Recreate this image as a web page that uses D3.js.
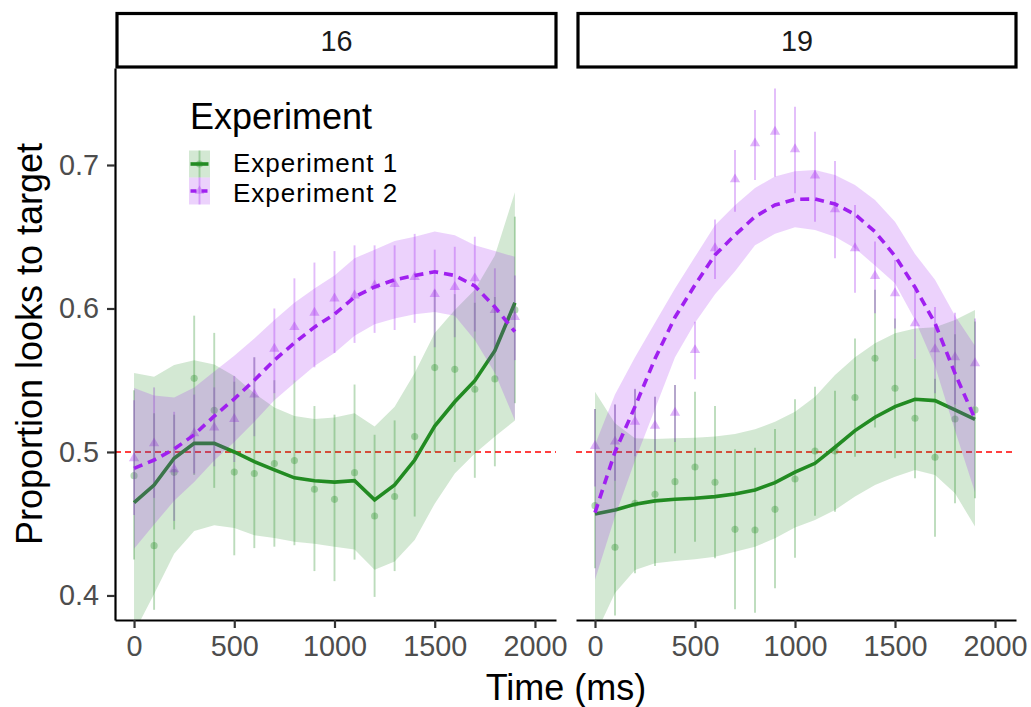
<!DOCTYPE html>
<html>
<head>
<meta charset="utf-8">
<script src="https://cdn.jsdelivr.net/npm/d3@7"></script>
<style>
  html, body { margin: 0; padding: 0; background: #fff; }
  svg { display: block; font-family: "Liberation Sans", Arial, Helvetica, sans-serif; }
</style>
</head>
<body>
<svg id="chart" width="1031" height="707"></svg>
<script>
// ---------------- DATA ----------------
const times = [0, 100, 200, 300, 400, 500, 600, 700, 800, 900, 1000, 1100, 1200, 1300, 1400, 1500, 1600, 1700, 1800, 1900];
const panels = ["16", "19"];
const seriesNames = ["Experiment 1", "Experiment 2"];
const xTicks = [0, 500, 1000, 1500, 2000];
const yTicks = [0.4, 0.5, 0.6, 0.7];

// Panel 16 — Experiment 1 observed means and ranges
const p16e1Mean  = [0.4835, 0.4347, 0.4858, 0.5513, 0.529, 0.486, 0.485, 0.492, 0.494, 0.474, 0.467, 0.4856, 0.4554, 0.469, 0.5107, 0.5588, 0.5576, 0.5437, 0.5509, 0.599];
const p16e1Low   = [0.425, 0.390, 0.446, 0.484, 0.475, 0.428, 0.433, 0.434, 0.435, 0.417, 0.410, 0.425, 0.399, 0.417, 0.455, 0.500, 0.493, 0.482, 0.490, 0.534];
const p16e1High  = [0.543, 0.527, 0.526, 0.595, 0.583, 0.549, 0.566, 0.550, 0.550, 0.532, 0.526, 0.547, 0.512, 0.522, 0.567, 0.613, 0.610, 0.604, 0.608, 0.664];
// Panel 16 — Experiment 1 smooth fit and band
const p16e1Fit   = [0.4647, 0.477, 0.4956, 0.506, 0.506, 0.500, 0.4933, 0.4875, 0.482, 0.480, 0.479, 0.480, 0.4666, 0.477, 0.4944, 0.518, 0.535, 0.5497, 0.5706, 0.604];
const p16e1FitLo = [0.374, 0.401, 0.429, 0.445, 0.449, 0.447, 0.442, 0.440, 0.4375, 0.436, 0.434, 0.432, 0.418, 0.4236, 0.4387, 0.464, 0.485, 0.499, 0.5107, 0.522];
const p16e1FitHi = [0.555, 0.5525, 0.5606, 0.564, 0.561, 0.553, 0.541, 0.531, 0.525, 0.523, 0.524, 0.527, 0.5177, 0.5316, 0.555, 0.583, 0.599, 0.613, 0.637, 0.681];

// Panel 16 — Experiment 2
const p16e2Mean  = [0.4956, 0.506, 0.488, 0.513, 0.517, 0.523, 0.540, 0.572, 0.587, 0.597, 0.607, 0.609, 0.616, 0.617, 0.622, 0.610, 0.615, 0.621, 0.599, 0.594];
const p16e2Low   = [0.456, 0.468, 0.452, 0.485, 0.490, 0.493, 0.511, 0.541, 0.550, 0.559, 0.569, 0.576, 0.583, 0.585, 0.590, 0.573, 0.580, 0.584, 0.570, 0.564];
const p16e2High  = [0.536, 0.545, 0.528, 0.540, 0.545, 0.553, 0.566, 0.600, 0.621, 0.632, 0.640, 0.644, 0.644, 0.644, 0.652, 0.641, 0.643, 0.650, 0.628, 0.623];
const p16e2Fit   = [0.4886, 0.4944, 0.502, 0.512, 0.525, 0.537, 0.550, 0.564, 0.576, 0.587, 0.596, 0.608, 0.615, 0.620, 0.623, 0.6256, 0.623, 0.6157, 0.601, 0.5838];
const p16e2FitLo = [0.4326, 0.4494, 0.466, 0.479, 0.494, 0.507, 0.521, 0.536, 0.548, 0.560, 0.569, 0.581, 0.589, 0.593, 0.596, 0.5976, 0.595, 0.578, 0.555, 0.522];
const p16e2FitHi = [0.5446, 0.5394, 0.538, 0.545, 0.556, 0.567, 0.579, 0.592, 0.604, 0.614, 0.623, 0.635, 0.641, 0.647, 0.650, 0.6536, 0.651, 0.644, 0.640, 0.636];

// Panel 19 — Experiment 1
const p19e1Mean  = [0.4626, 0.4336, 0.4642, 0.4705, 0.4793, 0.4895, 0.4789, 0.4461, 0.4456, 0.460, 0.4812, 0.5007, 0.5007, 0.538, 0.5653, 0.5444, 0.5235, 0.4963, 0.523, 0.5293];
const p19e1Low   = [0.419, 0.386, 0.4155, 0.4206, 0.4294, 0.4375, 0.426, 0.3904, 0.388, 0.405, 0.4263, 0.4556, 0.4584, 0.4967, 0.517, 0.4956, 0.4817, 0.441, 0.4642, 0.4677];
const p19e1High  = [0.530, 0.533, 0.5437, 0.5385, 0.5467, 0.542, 0.532, 0.5019, 0.503, 0.516, 0.5367, 0.5455, 0.5427, 0.579, 0.613, 0.593, 0.565, 0.551, 0.582, 0.591];
const p19e1Fit   = [0.4568, 0.4596, 0.4635, 0.4659, 0.467, 0.4677, 0.4689, 0.4707, 0.4735, 0.4786, 0.486, 0.4921, 0.5033, 0.5149, 0.5242, 0.5316, 0.5367, 0.5358, 0.5293, 0.5228];
const p19e1FitLo = [0.372, 0.4017, 0.4178, 0.4224, 0.424, 0.4252, 0.427, 0.4305, 0.434, 0.4398, 0.4474, 0.4526, 0.4596, 0.4689, 0.477, 0.4828, 0.4875, 0.484, 0.4712, 0.448];
const p19e1FitHi = [0.542, 0.520, 0.5095, 0.509, 0.5095, 0.510, 0.5107, 0.5125, 0.5158, 0.521, 0.528, 0.5385, 0.5537, 0.566, 0.5757, 0.5827, 0.586, 0.587, 0.592, 0.599];

// Panel 19 — Experiment 2
const p19e2Mean  = [0.5042, 0.5072, 0.5211, 0.5183, 0.5274, 0.571, 0.642, 0.690, 0.7151, 0.7232, 0.711, 0.6926, 0.6691, 0.642, 0.6226, 0.6106, 0.5897, 0.5716, 0.566, 0.5618];
const p19e2Low   = [0.476, 0.480, 0.497, 0.500, 0.507, 0.5507, 0.6206, 0.6675, 0.6895, 0.6918, 0.6803, 0.6605, 0.635, 0.611, 0.5967, 0.586, 0.565, 0.541, 0.533, 0.532];
const p19e2High  = [0.530, 0.533, 0.544, 0.5385, 0.5467, 0.5908, 0.662, 0.7105, 0.7383, 0.7534, 0.7406, 0.7232, 0.7028, 0.6721, 0.6466, 0.6338, 0.613, 0.601, 0.597, 0.593];
const p19e2Fit   = [0.4577, 0.500, 0.5316, 0.565, 0.5939, 0.6164, 0.6373, 0.6512, 0.664, 0.6721, 0.6761, 0.6763, 0.6728, 0.6656, 0.6535, 0.6366, 0.6148, 0.5897, 0.5548, 0.523];
const p19e2FitLo = [0.411, 0.455, 0.494, 0.530, 0.566, 0.590, 0.610, 0.626, 0.644, 0.652, 0.6566, 0.6547, 0.650, 0.642, 0.630, 0.6176, 0.592, 0.560, 0.515, 0.472];
const p19e2FitHi = [0.505, 0.540, 0.566, 0.590, 0.614, 0.636, 0.658, 0.672, 0.684, 0.692, 0.6956, 0.6965, 0.693, 0.686, 0.6756, 0.6605, 0.638, 0.620, 0.595, 0.574];

const refLine = 0.5;

// Build per-panel tables from the arrays
const zipPts = (m, lo, hi) => times.map((t, i) => ({ t, m: m[i], lo: lo[i], hi: hi[i] }));
const panelData = [
  { label: panels[0],
    e1: { pts: zipPts(p16e1Mean, p16e1Low, p16e1High), fit: zipPts(p16e1Fit, p16e1FitLo, p16e1FitHi) },
    e2: { pts: zipPts(p16e2Mean, p16e2Low, p16e2High), fit: zipPts(p16e2Fit, p16e2FitLo, p16e2FitHi) } },
  { label: panels[1],
    e1: { pts: zipPts(p19e1Mean, p19e1Low, p19e1High), fit: zipPts(p19e1Fit, p19e1FitLo, p19e1FitHi) },
    e2: { pts: zipPts(p19e2Mean, p19e2Low, p19e2High), fit: zipPts(p19e2Fit, p19e2FitLo, p19e2FitHi) } }
];

// ---------------- LAYOUT / STYLE ----------------
const GREEN = "#228B22", PURPLE = "#A020F0";
const panelTop = 68, panelBottom = 620;
const panelX = [[115, 556], [576, 1016]];
const baseFont = 36, smallFont = 28.8, legendFont = 26;

const svg = d3.select("#chart");
const y = d3.scaleLinear().domain([0.3829, 0.7676]).range([panelBottom, panelTop]);

panelData.forEach((pd, pi) => {
  const [x0, x1] = panelX[pi];
  const x = d3.scaleLinear().domain([-95, 2105]).range([x0, x1]);
  const g = svg.append("g");

  const clipId = "clip" + pi;
  svg.append("clipPath").attr("id", clipId)
    .append("rect").attr("x", x0).attr("y", panelTop).attr("width", x1 - x0).attr("height", panelBottom - panelTop);

  const plot = g.append("g").attr("clip-path", `url(#${clipId})`);

  // reference line
  plot.append("line")
    .attr("x1", x0).attr("x2", x1)
    .attr("y1", y(refLine)).attr("y2", y(refLine))
    .attr("stroke", "#FF0000").attr("stroke-width", 1.3).attr("stroke-dasharray", "6,4");

  // point ranges
  const drawPts = (series, color, shape) => {
    const pg = plot.append("g");
    pg.selectAll("line.eb").data(series.pts).join("line")
      .attr("x1", d => x(d.t)).attr("x2", d => x(d.t))
      .attr("y1", d => y(d.lo)).attr("y2", d => y(d.hi))
      .attr("stroke", color).attr("stroke-opacity", 0.3).attr("stroke-width", 1.9);
    pg.selectAll("path.pt").data(series.pts).join("path")
      .attr("d", d3.symbol().type(shape).size(shape === d3.symbolTriangle ? 46 : 40))
      .attr("transform", d => `translate(${x(d.t)},${y(d.m)})`)
      .attr("fill", color).attr("fill-opacity", 0.32);
  };
  drawPts(pd.e1, GREEN, d3.symbolCircle);
  drawPts(pd.e2, PURPLE, d3.symbolTriangle);

  // smooth fits
  const area = d3.area().x(d => x(d.t)).y0(d => y(d.lo)).y1(d => y(d.hi));
  const line = d3.line().x(d => x(d.t)).y(d => y(d.m));
  const drawFit = (series, color, dash) => {
    plot.append("path").datum(series.fit).attr("d", area)
      .attr("fill", color).attr("fill-opacity", 0.2);
    plot.append("path").datum(series.fit).attr("d", line)
      .attr("fill", "none").attr("stroke", color).attr("stroke-width", 3.6)
      .attr("stroke-dasharray", dash);
  };
  drawFit(pd.e1, GREEN, null);
  drawFit(pd.e2, PURPLE, "9,6");

  // x axis
  const xa = g.append("g").attr("transform", `translate(0,${panelBottom})`)
    .call(d3.axisBottom(x).tickValues(xTicks).tickFormat(d3.format("d")).tickSize(8).tickSizeOuter(0).tickPadding(8));
  xa.select(".domain").attr("stroke", "#000").attr("stroke-width", 2.2);
  xa.selectAll(".tick line").attr("stroke", "#333").attr("stroke-width", 2.2);
  xa.selectAll(".tick text").attr("fill", "#4D4D4D").attr("font-size", smallFont)
    .attr("font-family", "Liberation Sans, Arial, sans-serif");

  // y axis only on first panel
  if (pi === 0) {
    const ya = g.append("g").attr("transform", `translate(${x0},0)`)
      .call(d3.axisLeft(y).tickValues(yTicks).tickFormat(d3.format(".1f")).tickSize(8).tickSizeOuter(0).tickPadding(8));
    ya.select(".domain").attr("stroke", "#000").attr("stroke-width", 2.2);
    ya.selectAll(".tick line").attr("stroke", "#333").attr("stroke-width", 2.2);
    ya.selectAll(".tick text").attr("fill", "#4D4D4D").attr("font-size", smallFont)
      .attr("font-family", "Liberation Sans, Arial, sans-serif");
  }

  // strip
  g.append("rect").attr("x", x0 + 2).attr("y", 13.5).attr("width", x1 - x0 - 2).attr("height", 53.5)
    .attr("fill", "#fff").attr("stroke", "#000").attr("stroke-width", 3.2);
  g.append("text").attr("x", (x0 + x1) / 2 + 1).attr("y", 51).attr("text-anchor", "middle")
    .attr("font-size", smallFont).attr("fill", "#1A1A1A").text(pd.label);
});

// axis titles
svg.append("text").attr("x", 566).attr("y", 700).attr("text-anchor", "middle")
  .attr("font-size", baseFont).attr("fill", "#000").text("Time (ms)");
svg.append("text").attr("transform", "translate(41.5,344) rotate(-90)").attr("text-anchor", "middle")
  .attr("font-size", baseFont).attr("fill", "#000").text("Proportion looks to target");

// legend
const lg = svg.append("g");
lg.append("text").attr("x", 190).attr("y", 129).attr("font-size", baseFont).attr("fill", "#000").text("Experiment");
const keyDefs = [
  { name: seriesNames[0], color: GREEN, shape: d3.symbolCircle, dash: null, textY: 171.5 },
  { name: seriesNames[1], color: PURPLE, shape: d3.symbolTriangle, dash: "6,5", textY: 202 }
];
keyDefs.forEach((k, i) => {
  const ky = 150.5 + i * 27;
  const kg = lg.append("g");
  kg.append("rect").attr("x", 189).attr("y", ky).attr("width", 21).attr("height", 27)
    .attr("fill", k.color).attr("fill-opacity", 0.2);
  kg.append("line").attr("x1", 199.5).attr("x2", 199.5).attr("y1", ky).attr("y2", ky + 27)
    .attr("stroke", k.color).attr("stroke-opacity", 0.3).attr("stroke-width", 1.9);
  kg.append("path").attr("d", d3.symbol().type(k.shape).size(40))
    .attr("transform", `translate(199.5,${ky + 13.5})`).attr("fill", k.color).attr("fill-opacity", 0.3);
  kg.append("line").attr("x1", 190.5).attr("x2", 208.5).attr("y1", ky + 13.5).attr("y2", ky + 13.5)
    .attr("stroke", k.color).attr("stroke-width", 3.6).attr("stroke-dasharray", k.dash);
  lg.append("text").attr("x", 233).attr("y", k.textY).attr("font-size", legendFont)
    .attr("letter-spacing", 1).attr("fill", "#000").text(k.name);
});
</script>
</body>
</html>
